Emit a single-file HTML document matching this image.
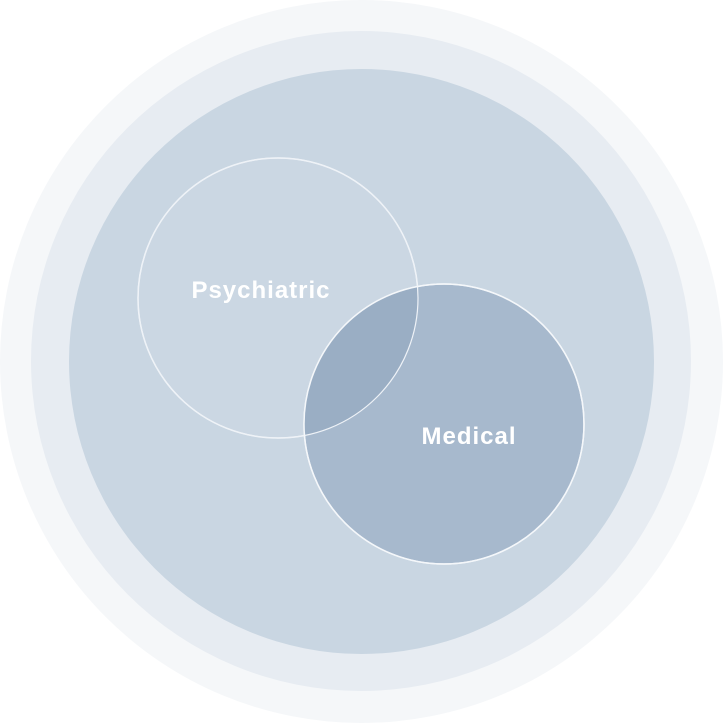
<!DOCTYPE html>
<html><head><style>html,body{margin:0;padding:0;background:#fff}svg{display:block}</style></head>
<body>
<svg width="723" height="723" viewBox="0 0 723 723" xmlns="http://www.w3.org/2000/svg">
<defs><clipPath id="p"><circle cx="278" cy="298" r="140"/></clipPath></defs>
<circle cx="361.5" cy="361.5" r="361.5" fill="#f5f7f9"/>
<circle cx="361" cy="361" r="330" fill="#e7ecf2"/>
<circle cx="361.5" cy="361.5" r="292.5" fill="#c9d6e2"/>
<circle cx="278" cy="298" r="140" fill="#cbd7e3" stroke="#f4f7fa" stroke-width="1.5"/>
<circle cx="444" cy="424" r="140" fill="#a7b9cd" stroke="#f4f7fa" stroke-width="1.5"/>
<circle cx="444" cy="424" r="140" fill="#9aaec4" clip-path="url(#p)"/>
<circle cx="278" cy="298" r="140" fill="none" stroke="#eef2f7" stroke-width="1.2"/>
<circle cx="444" cy="424" r="140" fill="none" stroke="#f4f7fa" stroke-width="1.5"/>
<text x="261" y="298" text-anchor="middle" font-family="Liberation Sans, sans-serif" font-weight="bold" font-size="24" letter-spacing="1" fill="#ffffff">Psychiatric</text>
<text x="469" y="444" text-anchor="middle" font-family="Liberation Sans, sans-serif" font-weight="bold" font-size="24" letter-spacing="1" fill="#ffffff">Medical</text>
</svg>
</body></html>
